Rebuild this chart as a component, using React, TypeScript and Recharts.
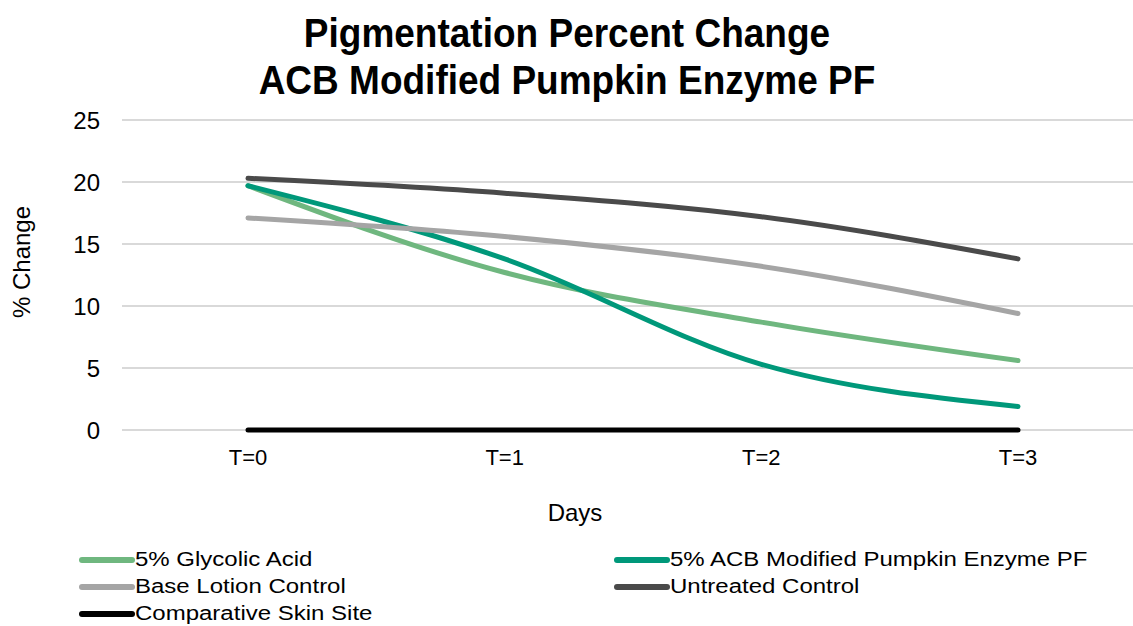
import React from "react";
import { LineChart, Line, XAxis, YAxis, CartesianGrid } from "recharts";

const days = ["T=0", "T=1", "T=2", "T=3"];
const glycolic = [19.7, 12.7, 8.7, 5.6];
const pumpkin = [19.7, 13.8, 5.3, 1.9];
const baseLotion = [17.1, 15.6, 13.2, 9.4];
const untreated = [20.3, 19.1, 17.2, 13.8];
const comparative = [0, 0, 0, 0];
const yTicks = [0, 5, 10, 15, 20, 25];

const series = [
  { key: "glycolic", name: "5% Glycolic Acid", color: "#6fb77f" },
  { key: "pumpkin", name: "5% ACB Modified Pumpkin Enzyme PF", color: "#00987a" },
  { key: "baseLotion", name: "Base Lotion Control", color: "#a5a5a5" },
  { key: "untreated", name: "Untreated Control", color: "#4a4a4a" },
  { key: "comparative", name: "Comparative Skin Site", color: "#000000" },
];

const data = days.map((d, i) => ({
  day: d,
  glycolic: glycolic[i],
  pumpkin: pumpkin[i],
  baseLotion: baseLotion[i],
  untreated: untreated[i],
  comparative: comparative[i],
}));

const font = "'Liberation Sans', Arial, sans-serif";

// two column legend, excel style
const LegendBox = () => (
  <div style={{ position: "absolute", left: 0, top: 546, width: 1133, height: 80, fontFamily: font, fontSize: 20, color: "#000" }}>
    {series.map((s, i) => (
      <div
        key={s.key}
        style={{
          position: "absolute",
          left: i % 2 === 0 ? 79 : 614,
          top: Math.floor(i / 2) * 27,
          height: 27,
          display: "flex",
          alignItems: "center",
          whiteSpace: "nowrap",
        }}
      >
        <div style={{ width: 56, height: 6, borderRadius: 3, background: s.color }} />
        <span style={{ display: "inline-block", transform: "scaleX(1.2)", transformOrigin: "left center", lineHeight: "27px" }}>
          {s.name}
        </span>
      </div>
    ))}
  </div>
);

export default function App() {
  return (
    <div style={{ position: "fixed", left: 0, top: 0, width: 1133, height: 626, overflow: "hidden", background: "#fff", fontFamily: font }}>
      <div
        style={{
          position: "absolute",
          left: 0,
          width: 1134,
          top: 10,
          textAlign: "center",
          fontWeight: "bold",
          fontSize: 40,
          lineHeight: "47px",
          color: "#000",
          transform: "scaleX(0.925)",
          transformOrigin: "center top",
          zIndex: 2,
        }}
      >
        Pigmentation Percent Change
        <br />
        ACB Modified Pumpkin Enzyme PF
      </div>
      <div style={{ position: "absolute", left: 575, top: 513, transform: "translate(-50%, -50%)", fontSize: 24, color: "#000", zIndex: 2 }}>
        Days
      </div>
      <div style={{ position: "absolute", left: 22, top: 262, transform: "translate(-50%, -50%) rotate(-90deg)", fontSize: 24, color: "#000", whiteSpace: "nowrap", zIndex: 2 }}>
        % Change
      </div>
      <LineChart width={1150} height={626} data={data} margin={{ top: 120, right: 4, left: 0, bottom: 96 }}>
        <CartesianGrid vertical={false} stroke="#d9d9d9" strokeWidth={2} />
        <XAxis
          dataKey="day"
          padding={{ left: 126, right: 128 }}
          axisLine={false}
          tickLine={false}
          tickMargin={13}
          height={100}
          tick={{ fill: "#000", fontSize: 22, fontFamily: font }}
        />
        <YAxis
          domain={[0, 25]}
          ticks={yTicks}
          width={122}
          axisLine={false}
          tickLine={false}
          tickMargin={16}
          tick={{ fill: "#000", fontSize: 24, fontFamily: font }}
        />
        {series.map((s) => (
          <Line
            key={s.key}
            type="monotone"
            dataKey={s.key}
            name={s.name}
            stroke={s.color}
            strokeWidth={5}
            strokeLinecap="round"
            dot={false}
            activeDot={false}
            isAnimationActive={false}
          />
        ))}
      </LineChart>
      <LegendBox />
    </div>
  );
}
